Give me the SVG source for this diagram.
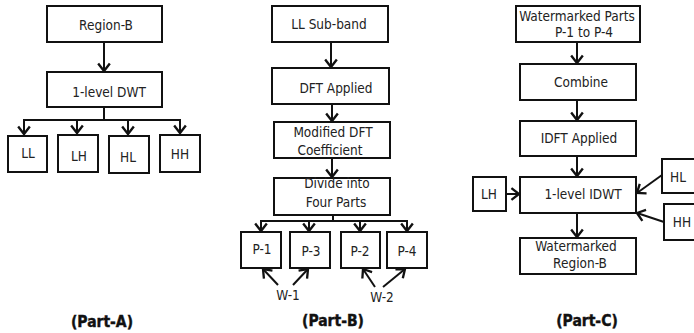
<svg xmlns="http://www.w3.org/2000/svg" width="694" height="333" viewBox="0 0 694 333">
  <defs>
    <marker id="arrow" markerUnits="userSpaceOnUse" markerWidth="14" markerHeight="14" viewBox="-8 -6 10 12" refX="0" refY="0" orient="auto">
      <path d="M-6.5,-5 L0,0 L-6.5,5" fill="none" stroke="#111" stroke-width="2" stroke-linejoin="miter"/>
    </marker>
  </defs>
  <style>
    .box { fill: #fff; stroke: #111; stroke-width: 2; }
    .lbl { font-family: "DejaVu Sans Condensed", "DejaVu Sans", Verdana, sans-serif; font-stretch: condensed; font-size: 13.5px; fill: #222; text-anchor: middle; }
    .part { font-family: "DejaVu Sans Condensed", "DejaVu Sans", sans-serif; font-stretch: condensed; font-size: 15.5px; font-weight: bold; fill: #111; text-anchor: middle; stroke: #111; stroke-width: 0.4; }
    .wire { fill: none; stroke: #111; stroke-width: 2; }
    .arr { fill: none; stroke: #111; stroke-width: 2; marker-end: url(#arrow); }
  </style>
  <rect width="694" height="333" fill="#fff"/>

  <!-- Part A: decomposition of the region -->
  <g id="a-region-b"><rect class="box" x="47" y="6" width="115" height="36"/><text class="lbl" x="106" y="30">Region-B</text></g>
  <g id="a-dwt"><rect class="box" x="47" y="72" width="115" height="35"/><text class="lbl" x="109" y="97">1-level DWT</text></g>
  <g id="a-ll"><rect class="box" x="8" y="136" width="39" height="36"/><text class="lbl" x="28" y="158">LL</text></g>
  <g id="a-lh"><rect class="box" x="58" y="135" width="40" height="37"/><text class="lbl" x="79" y="161">LH</text></g>
  <g id="a-hl"><rect class="box" x="109" y="136" width="40" height="37"/><text class="lbl" x="128" y="162">HL</text></g>
  <g id="a-hh"><rect class="box" x="160" y="135" width="40" height="37"/><text class="lbl" x="180" y="159">HH</text></g>

  <!-- Part B: DFT embedding path -->
  <g id="b-ll"><rect class="box" x="272" y="6" width="116" height="36"/><text class="lbl" x="329" y="29">LL Sub-band</text></g>
  <g id="b-dft"><rect class="box" x="272" y="68" width="117" height="36"/><text class="lbl" x="336" y="93">DFT Applied</text></g>
  <g id="b-mod"><rect class="box" x="274" y="122" width="116" height="36"/><text class="lbl" x="333" y="137">Modified DFT</text><text class="lbl" x="330" y="155">Coefficient</text></g>
  <g id="b-divide"><rect class="box" x="274" y="178" width="116" height="37"/><text class="lbl" x="337" y="188">Divide into</text><text class="lbl" x="336" y="207">Four Parts</text></g>
  <g id="b-p1"><rect class="box" x="241" y="232" width="40" height="36"/><text class="lbl" x="262" y="254">P-1</text></g>
  <g id="b-p3"><rect class="box" x="290" y="232" width="40" height="36"/><text class="lbl" x="311" y="256">P-3</text></g>
  <g id="b-p2"><rect class="box" x="341" y="232" width="39" height="36"/><text class="lbl" x="360" y="256">P-2</text></g>
  <g id="b-p4"><rect class="box" x="387" y="232" width="40" height="36"/><text class="lbl" x="407" y="256">P-4</text></g>
  <g id="b-w1"><text class="lbl" x="288" y="300">W-1</text></g>
  <g id="b-w2"><text class="lbl" x="382" y="302">W-2</text></g>

  <!-- Part C: extraction / reconstruction path -->
  <g id="c-parts"><rect class="box" x="516" y="6" width="124" height="36"/><text class="lbl" x="577" y="21">Watermarked Parts</text><text class="lbl" x="584" y="37">P-1 to P-4</text></g>
  <g id="c-combine"><rect class="box" x="520" y="64" width="116" height="36"/><text class="lbl" x="581" y="87">Combine</text></g>
  <g id="c-idft"><rect class="box" x="520" y="121" width="116" height="35"/><text class="lbl" x="579" y="143">IDFT Applied</text></g>
  <g id="c-idwt"><rect class="box" x="520" y="177" width="116" height="36"/><text class="lbl" x="583" y="199">1-level IDWT</text></g>
  <g id="c-lh"><rect class="box" x="473" y="177" width="33" height="34"/><text class="lbl" x="489" y="199">LH</text></g>
  <g id="c-hl"><rect class="box" x="662" y="159" width="33" height="34"/><text class="lbl" x="678" y="182">HL</text></g>
  <g id="c-hh"><rect class="box" x="664" y="204" width="32" height="36"/><text class="lbl" x="682" y="227">HH</text></g>
  <g id="c-out"><rect class="box" x="520" y="238" width="116" height="36"/><text class="lbl" x="576" y="251">Watermarked</text><text class="lbl" x="580" y="268">Region-B</text></g>

  <!-- Captions -->
  <g id="captions">
    <text class="part" x="102" y="327">(Part-A)</text>
    <text class="part" x="333" y="326">(Part-B)</text>
    <text class="part" x="587" y="326">(Part-C)</text>
  </g>

  <!-- Connectors -->
  <g id="connectors">
    <!-- Part A -->
    <line class="arr" x1="104" y1="42" x2="104" y2="71"/>
    <polyline class="wire" points="104,107 104,120"/>
    <line class="wire" x1="23" y1="120" x2="181" y2="120"/>
    <line class="arr" x1="24" y1="120" x2="24" y2="134"/>
    <line class="arr" x1="77" y1="120" x2="77" y2="133"/>
    <line class="arr" x1="128" y1="120" x2="128" y2="134"/>
    <line class="arr" x1="180" y1="120" x2="180" y2="133"/>
    <!-- Part B -->
    <line class="arr" x1="331" y1="42" x2="331" y2="67"/>
    <line class="arr" x1="332" y1="104" x2="332" y2="121"/>
    <line class="arr" x1="332" y1="158" x2="332" y2="177"/>
    <polyline class="wire" points="333,215 333,221"/>
    <line class="wire" x1="260" y1="221" x2="408" y2="221"/>
    <line class="arr" x1="261" y1="221" x2="261" y2="231"/>
    <line class="arr" x1="309" y1="221" x2="309" y2="231"/>
    <line class="arr" x1="360" y1="221" x2="360" y2="231"/>
    <line class="arr" x1="407" y1="221" x2="407" y2="231"/>
    <line class="arr" x1="278" y1="285" x2="263" y2="269"/>
    <line class="arr" x1="293" y1="285" x2="308" y2="269"/>
    <line class="arr" x1="375" y1="287" x2="363" y2="269"/>
    <line class="arr" x1="383" y1="287" x2="405" y2="269"/>
    <!-- Part C -->
    <line class="arr" x1="577" y1="42" x2="577" y2="63"/>
    <line class="arr" x1="577" y1="100" x2="577" y2="120"/>
    <line class="arr" x1="577" y1="156" x2="577" y2="176"/>
    <line class="arr" x1="577" y1="213" x2="577" y2="237"/>
    <line class="arr" x1="506" y1="194" x2="519" y2="194"/>
    <line class="arr" x1="662" y1="175" x2="637" y2="193"/>
    <line class="arr" x1="664" y1="222" x2="637" y2="213"/>
  </g>
</svg>
